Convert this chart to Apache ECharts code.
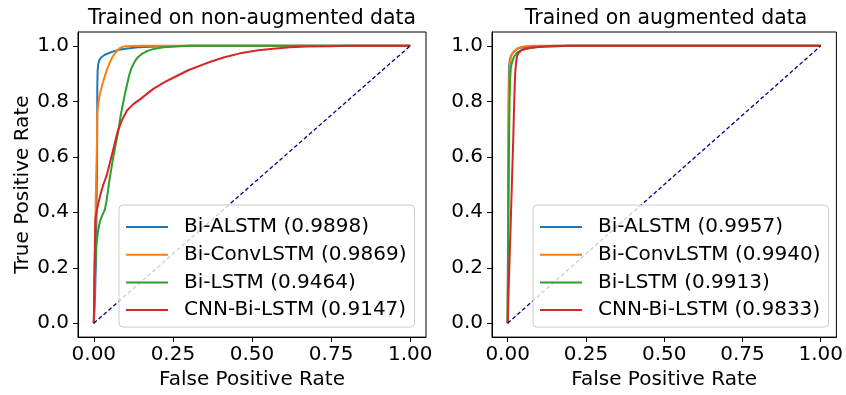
<!DOCTYPE html>
<html>
<head>
<meta charset="utf-8">
<script src="https://cdn.jsdelivr.net/npm/echarts@6/dist/echarts.min.js"></script>
<style>
html,body{margin:0;padding:0;background:#fff;}
#chart{width:846px;height:395px;}
</style>
</head>
<body>
<div id="chart"></div>
<script>
// ---- data ----
const panelTitles = ['Trained on non-augmented data', 'Trained on augmented data'];
const xTicks = [0, 0.25, 0.5, 0.75, 1.0];
const yTicks = [0, 0.2, 0.4, 0.6, 0.8, 1.0];
const modelNames = ['Bi-ALSTM', 'Bi-ConvLSTM', 'Bi-LSTM', 'CNN-Bi-LSTM'];
const aucLeft = ['0.9898', '0.9869', '0.9464', '0.9147'];
const aucRight = ['0.9957', '0.9940', '0.9913', '0.9833'];
const diagonal = [[0, 0], [1, 1]];

const leftBiALSTM = [[0,0],[0.004,0.1],[0.007,0.25],[0.009,0.45],[0.0105,0.6],[0.011,0.85],[0.012,0.91],[0.014,0.935],[0.018,0.95],[0.025,0.96],[0.035,0.968],[0.05,0.975],[0.065,0.981],[0.08,0.986],[0.1,0.99],[0.14,0.995],[0.2,0.998],[0.3,1],[1,1]];
const leftBiConvLSTM = [[0,0],[0.002,0.1],[0.004,0.3],[0.007,0.5],[0.01,0.65],[0.011,0.76],[0.015,0.8],[0.02,0.83],[0.03,0.873],[0.04,0.91],[0.05,0.939],[0.06,0.962],[0.07,0.978],[0.08,0.99],[0.09,0.996],[0.1,0.999],[0.15,1],[1,1]];
const leftBiLSTM = [[0,0],[0.003,0.16],[0.008,0.28],[0.013,0.33],[0.019,0.366],[0.027,0.39],[0.035,0.41],[0.04,0.44],[0.045,0.48],[0.05,0.52],[0.06,0.59],[0.07,0.65],[0.077,0.69],[0.085,0.75],[0.092,0.79],[0.098,0.825],[0.105,0.86],[0.112,0.895],[0.119,0.92],[0.13,0.945],[0.14,0.96],[0.151,0.97],[0.17,0.982],[0.193,0.99],[0.22,0.995],[0.26,0.998],[0.3,1],[1,1]];
const leftCNNBiLSTM = [[0,0],[0.002,0.2],[0.005,0.377],[0.01,0.41],[0.02,0.46],[0.03,0.5],[0.04,0.53],[0.05,0.575],[0.06,0.62],[0.075,0.69],[0.09,0.735],[0.105,0.767],[0.125,0.79],[0.146,0.807],[0.188,0.845],[0.225,0.87],[0.251,0.885],[0.3,0.913],[0.357,0.938],[0.41,0.958],[0.462,0.973],[0.52,0.984],[0.567,0.99],[0.62,0.995],[0.673,0.998],[0.75,0.999],[0.8,1],[1,1]];

const rightBiALSTM = [[0,0],[0.001,0.3],[0.002,0.55],[0.003,0.8],[0.004,0.9],[0.005,0.93],[0.007,0.95],[0.01,0.962],[0.015,0.973],[0.019,0.98],[0.03,0.989],[0.04,0.993],[0.06,0.996],[0.08,0.998],[0.15,1],[1,1]];
const rightBiConvLSTM = [[0,0],[0.002,0.4],[0.004,0.8],[0.006,0.91],[0.008,0.945],[0.012,0.965],[0.02,0.98],[0.03,0.99],[0.04,0.995],[0.05,0.998],[0.08,1],[1,1]];
const rightBiLSTM = [[0,0],[0.003,0.5],[0.006,0.8],[0.008,0.88],[0.01,0.92],[0.015,0.945],[0.02,0.96],[0.03,0.976],[0.045,0.985],[0.06,0.99],[0.1,0.997],[0.2,1],[1,1]];
const rightCNNBiLSTM = [[0,0],[0.005,0.19],[0.01,0.37],[0.014,0.52],[0.018,0.67],[0.021,0.8],[0.024,0.9],[0.027,0.94],[0.03,0.963],[0.035,0.975],[0.045,0.985],[0.07,0.993],[0.12,0.998],[0.2,1],[1,1]];

const colors = ['#1f77b4', '#ff7f0e', '#2ca02c', '#d62728'];
const leftData = [leftBiALSTM, leftBiConvLSTM, leftBiLSTM, leftCNNBiLSTM];
const rightData = [rightBiALSTM, rightBiConvLSTM, rightBiLSTM, rightCNNBiLSTM];

// ---- chart ----
const FONT = 'DejaVu Sans';
const chart = echarts.init(document.getElementById('chart'), null, {renderer: 'canvas'});

const leftNames = modelNames.map((n, i) => n + ' (' + aucLeft[i] + ')');
const rightNames = modelNames.map((n, i) => n + ' (' + aucRight[i] + ')');

const grids = [
  {left: 78, top: 32, width: 348, height: 307},
  {left: 492, top: 32, width: 347, height: 307}
];

function xAxisFor(idx) {
  return {
    type: 'value', gridIndex: idx, min: -0.05, max: 1.05,
    name: 'False Positive Rate', nameLocation: 'middle', nameGap: 32,
    nameTextStyle: {fontSize: 20, color: '#000', fontFamily: FONT},
    axisLine: {show: true, onZero: false, lineStyle: {color: '#000', width: 1}},
    axisTick: {show: true, length: 5, lineStyle: {color: '#000', width: 1}, customValues: xTicks},
    axisLabel: {show: true, margin: 8, fontSize: 20, color: '#000', fontFamily: FONT,
      customValues: xTicks, formatter: v => v.toFixed(2)},
    splitLine: {show: false}
  };
}
function yAxisFor(idx, withName) {
  return {
    type: 'value', gridIndex: idx, min: -0.05, max: 1.05,
    name: withName ? 'True Positive Rate' : '', nameLocation: 'middle', nameGap: 45,
    nameTextStyle: {fontSize: 20, color: '#000', fontFamily: FONT},
    axisLine: {show: true, onZero: false, lineStyle: {color: '#000', width: 1}},
    axisTick: {show: true, length: 5, lineStyle: {color: '#000', width: 1}, customValues: yTicks},
    axisLabel: {show: true, margin: 9, fontSize: 20, color: '#000', fontFamily: FONT,
      customValues: yTicks, formatter: v => v.toFixed(1)},
    splitLine: {show: false}
  };
}

const series = [];
function addPanel(idx, names, data) {
  data.forEach((d, i) => {
    series.push({
      name: names[i], type: 'line', xAxisIndex: idx, yAxisIndex: idx,
      data: d, symbol: 'none', smooth: false, animation: false,
      lineStyle: {color: colors[i], width: 2}, itemStyle: {color: colors[i]}
    });
  });
  series.push({
    name: 'diag' + idx, type: 'line', xAxisIndex: idx, yAxisIndex: idx,
    data: diagonal, symbol: 'none', animation: false, silent: true,
    lineStyle: {color: '#000080', width: 1.3, type: [4, 2.5]}
  });
}
addPanel(0, leftNames, leftData);
addPanel(1, rightNames, rightData);

function legendFor(left, names) {
  return {
    orient: 'vertical', left: left, top: 205,
    data: names, icon: 'rect', itemWidth: 42, itemHeight: 2, itemGap: 7.7,
    padding: [12, 8, 7, 7],
    backgroundColor: 'rgba(255,255,255,0.8)',
    borderColor: '#cccccc', borderWidth: 1, borderRadius: 4,
    textStyle: {fontSize: 20, color: '#000', fontFamily: FONT, padding: [0, 0, 0, 11]},
    selectedMode: false
  };
}

chart.setOption({
  animation: false,
  backgroundColor: '#fff',
  textStyle: {fontFamily: FONT},
  title: [
    {text: panelTitles[0], left: 252, top: 9, textAlign: 'center', padding: 0,
     textStyle: {fontSize: 20.4, fontWeight: 'normal', color: '#000', fontFamily: FONT}},
    {text: panelTitles[1], left: 666, top: 9, textAlign: 'center', padding: 0,
     textStyle: {fontSize: 20.4, fontWeight: 'normal', color: '#000', fontFamily: FONT}}
  ],
  grid: grids.map(g => Object.assign({show: true, borderColor: '#000', borderWidth: 1, backgroundColor: 'transparent'}, g)),
  xAxis: [xAxisFor(0), xAxisFor(1)],
  yAxis: [yAxisFor(0, true), yAxisFor(1, false)],
  legend: [legendFor(119, leftNames), legendFor(533, rightNames)],
  series: series
});
</script>
</body>
</html>
